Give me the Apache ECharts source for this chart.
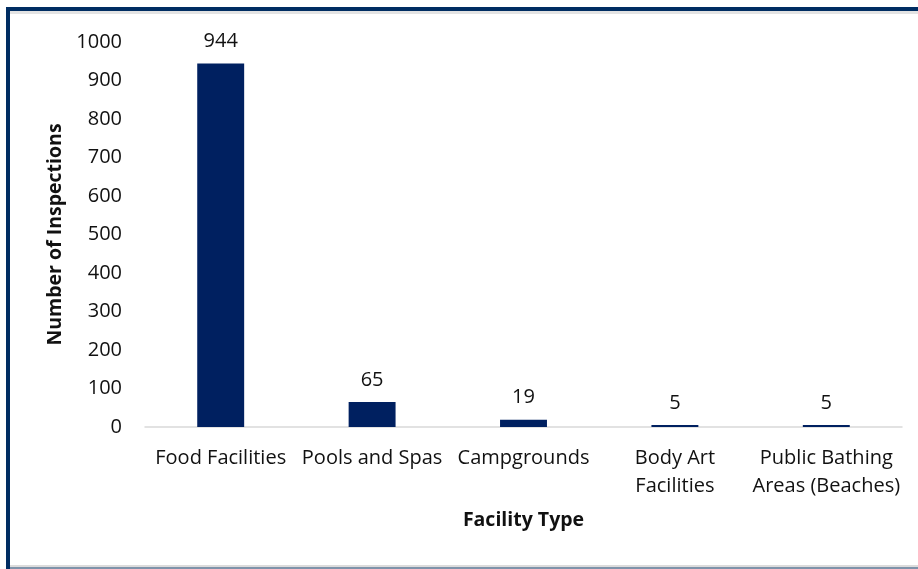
<!DOCTYPE html>
<html>
<head>
<meta charset="utf-8">
<style>
    html, body { margin: 0; padding: 0; background: #fff; }
    #wrap { position: relative; width: 918px; height: 569px; overflow: hidden; }
    #grafico { position: absolute; left: 0; top: 0; width: 918px; height: 569px; }
    .edge { position: absolute; pointer-events: none; }
</style>
</head>
<body>
<div id="wrap">
    <div id="grafico"></div>
    <!-- moldura do quadro -->
    <div class="edge" style="left:6px; top:7px; width:912px; height:4px; background:#002d62;"></div>
    <div class="edge" style="left:10px; top:11px; width:908px; height:3px; background:#e3e3e3;"></div>
    <div class="edge" style="left:6px; top:7px; width:4px; height:562px; background:#002d62;"></div>
    <div class="edge" style="left:10px; top:565px; width:908px; height:2px; background:#dcdcdc;"></div>
    <div class="edge" style="left:10px; top:567px; width:908px; height:2px; background:#7f93aa;"></div>
</div>

<script src="https://cdn.jsdelivr.net/npm/echarts/dist/echarts.min.js"></script>
<script>
    // Dados
    var categorias = ['Food Facilities', 'Pools and Spas', 'Campgrounds', 'Body Art\nFacilities', 'Public Bathing\nAreas (Beaches)'];
    var inspecoes = [944, 65, 19, 5, 5];
    var eixoY = { min: 0, max: 1000, interval: 100 };

    var fonte = '"Open Sans", "Noto Sans", sans-serif';

    var myChart = echarts.init(document.getElementById('grafico'));

    var option = {
        animation: false,
        textStyle: { fontFamily: fonte },
        grid: {
            left: 145,
            right: 16,
            top: 42,
            bottom: 142,
            containLabel: false
        },
        xAxis: {
            type: 'category',
            data: categorias,
            name: 'Facility Type',
            nameLocation: 'middle',
            nameGap: 83,
            nameTextStyle: { fontFamily: fonte, fontSize: 19.5, fontWeight: 'bold', color: '#111' },
            axisLine: { lineStyle: { color: '#d9d9d9', width: 1.5 } },
            axisTick: { show: false },
            axisLabel: {
                interval: 0,
                margin: 17,
                fontFamily: fonte,
                fontSize: 20,
                lineHeight: 28,
                color: '#111'
            }
        },
        yAxis: {
            type: 'value',
            min: eixoY.min,
            max: eixoY.max,
            interval: eixoY.interval,
            name: 'Number of Inspections',
            nameLocation: 'middle',
            nameGap: 79,
            nameTextStyle: { fontFamily: fonte, fontSize: 19.5, fontWeight: 'bold', color: '#111' },
            axisLine: { show: false },
            axisTick: { show: false },
            splitLine: { show: false },
            axisLabel: {
                margin: 23,
                fontFamily: fonte,
                fontSize: 20,
                color: '#111',
                formatter: function (v) { return String(v); }
            }
        },
        series: [
            {
                name: 'Inspections',
                type: 'bar',
                data: inspecoes,
                barWidth: '31%',
                itemStyle: { color: '#002060' },
                label: {
                    show: true,
                    position: 'top',
                    distance: 12,
                    fontFamily: fonte,
                    fontSize: 20,
                    color: '#111'
                }
            }
        ]
    };

    myChart.setOption(option);
</script>
</body>
</html>
